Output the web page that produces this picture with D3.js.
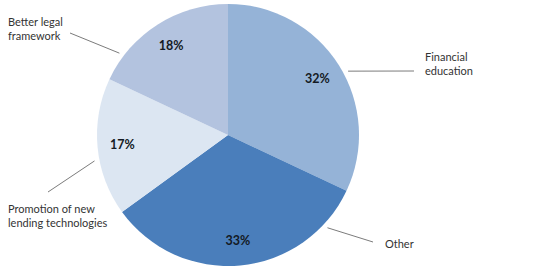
<!DOCTYPE html>
<html>
<head>
<meta charset="utf-8">
<script src="https://cdn.jsdelivr.net/npm/d3@7"></script>
<style>
  html, body { margin: 0; padding: 0; background: #fff; }
  svg { display: block; }
</style>
</head>
<body>
<div id="chart"></div>
<script>
const categories = ["Financial education", "Other", "Promotion of new lending technologies", "Better legal framework"];
const shares = [32, 33, 17, 18];
const labelLines = [["Financial", "education"], ["Other"], ["Promotion of new", "lending technologies"], ["Better legal", "framework"]];
const colors = ["#95b3d7", "#4a7ebb", "#dce6f2", "#b3c3df"];

// callout layout: leader start angle (deg, clockwise from top), leader end and text anchor relative to centre
const callouts = [
    { angle: 62, end: [186, -64], text: [197, -74] },
    { angle: 133, end: [145, 107], text: [157, 113] },
    { angle: 259, end: [-180, 57], text: [-220, 78] },
    { angle: 307, end: [-158, -102], text: [-220, -109] }
];

const width = 540, height = 267;
const cx = 228, cy = 135, radius = 131;

const svg = d3.select("#chart").append("svg")
    .attr("width", width)
    .attr("height", height);

const g = svg.append("g").attr("transform", `translate(${cx}, ${cy})`);

const pie = d3.pie().sort(null).value(d => d);
const arcs = pie(shares);
const arc = d3.arc().innerRadius(0).outerRadius(radius);
const labelArc = d3.arc().innerRadius(106).outerRadius(106);

g.selectAll("path.slice")
    .data(arcs)
    .join("path")
    .attr("class", "slice")
    .attr("d", arc)
    .attr("fill", (d, i) => colors[i]);

g.selectAll("text.pct")
    .data(arcs)
    .join("text")
    .attr("class", "pct")
    .attr("transform", d => `translate(${labelArc.centroid(d)})`)
    .attr("text-anchor", "middle")
    .attr("dy", "0.35em")
    .attr("font-family", "Lato, 'Open Sans', sans-serif")
    .attr("font-weight", "bold")
    .attr("font-size", 12.5)
    .attr("fill", "#141a24")
    .text(d => `${d.data}%`);

// leader lines
g.selectAll("line.leader")
    .data(callouts)
    .join("line")
    .attr("class", "leader")
    .attr("x1", c => (radius + 5) * Math.sin(c.angle * Math.PI / 180))
    .attr("y1", c => -(radius + 5) * Math.cos(c.angle * Math.PI / 180))
    .attr("x2", c => c.end[0])
    .attr("y2", c => c.end[1])
    .attr("stroke", "#595959")
    .attr("stroke-width", 0.8);

const names = g.selectAll("text.name")
    .data(callouts)
    .join("text")
    .attr("class", "name")
    .attr("x", c => c.text[0])
    .attr("y", c => c.text[1])
    .attr("font-family", "Lato, 'Open Sans', sans-serif")
    .attr("font-size", 11)
    .attr("fill", "#333");

names.each(function(c, i) {
    d3.select(this).selectAll("tspan")
        .data(labelLines[i])
        .join("tspan")
        .attr("x", c.text[0])
        .attr("dy", (t, j) => j === 0 ? 0 : 14)
        .text(t => t);
});
</script>
</body>
</html>
